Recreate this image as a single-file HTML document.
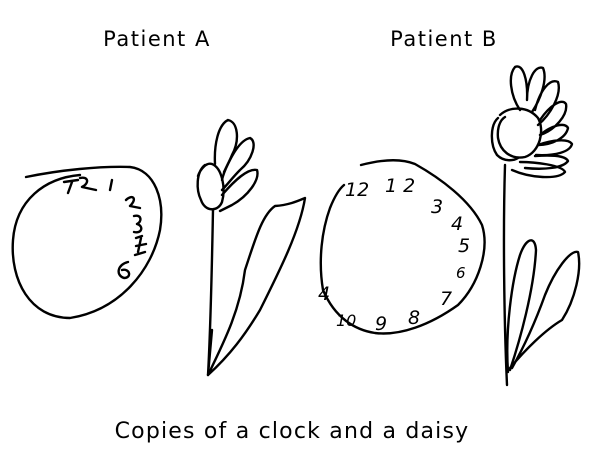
<!DOCTYPE html>
<html><head><style>
html,body{margin:0;padding:0;background:#fff;}
svg{display:block}
text{font-family:"DejaVu Sans","Liberation Sans",sans-serif;fill:#000}
.s{fill:none;stroke:#000;stroke-width:2.4;stroke-linecap:round;stroke-linejoin:round}
.n{font-family:"Liberation Sans",sans-serif;font-size:19px;font-style:italic}
</style></head><body>
<svg width="600" height="465" viewBox="0 0 600 465">
<text x="157" y="46" font-size="21" letter-spacing="1.5" text-anchor="middle">Patient A</text>
<text x="444" y="46" font-size="21" letter-spacing="1.5" text-anchor="middle">Patient B</text>
<text x="292" y="438" font-size="22" letter-spacing="1.2" text-anchor="middle">Copies of a clock and a daisy</text>

<!-- Clock A -->
<path class="s" d="M26,177 C60,170 100,166 130,167 C155,170 165,200 160,230 C152,270 120,310 70,318 C30,318 10,280 13,240 C16,200 45,178 80,175"/>
<path class="s" d="M68,193 L72,182 M64,182 L78,180 M80,178 C88,176 90,183 82,187 L96,190 M112,180 L110,190 M126,200 C132,194 138,198 130,206 L140,208 M134,216 C142,214 142,222 137,224 C144,226 142,234 134,232 M136,238 L142,236 M136,246 L146,244 M141,238 L138,252 M128,262 C118,264 115,275 124,278 C132,278 130,268 122,270 M135,255 L145,252"/>

<!-- Flower A -->
<path class="s" d="M213,210 C212,260 211,320 208,375 L212,330"/>
<path class="s" d="M208,375 C225,340 240,310 245,270 C255,240 262,215 275,206 C290,205 300,200 305,198 C300,230 280,270 260,310 C245,335 230,355 208,375"/>
<path class="s" d="M205,165 C196,172 196,190 201,200 C205,212 218,212 222,202 C226,188 222,168 212,164 C206,162 200,170 198,176"/>
<path class="s" d="M215,164 C214,145 218,125 228,120 C238,122 240,140 232,155 C228,165 224,170 222,180"/>
<path class="s" d="M224,172 C232,155 240,140 250,138 C258,142 252,160 240,170 C232,178 228,184 222,190"/>
<path class="s" d="M222,195 C235,180 248,168 257,170 C260,180 248,196 232,205 C226,208 222,210 220,211"/>

<!-- Clock B -->
<path class="s" d="M361,165 C380,160 400,158 415,164 C440,178 470,200 482,225 C490,250 478,285 458,305 C430,325 400,336 375,333 C355,330 335,318 323,290 C318,260 322,230 330,208 C334,198 338,190 344,185"/>
<g class="n">
<text x="345" y="196">12</text>
<text x="385" y="192">1 2</text>
<text x="431" y="213">3</text>
<text x="451" y="230">4</text>
<text x="458" y="252">5</text>
<text x="456" y="278" font-size="15">6</text>
<text x="440" y="305">7</text>
<text x="408" y="324">8</text>
<text x="375" y="330">9</text>
<text x="336" y="326" font-size="16">10</text>
<text x="318" y="300">4</text>
</g>

<!-- Flower B -->
<path class="s" d="M505,165 C503,230 504,320 507,385"/>
<path class="s" d="M508,372 C505,330 512,280 520,255 C526,238 535,235 536,250 C534,290 520,340 510,370"/>
<path class="s" d="M510,368 C525,350 545,330 562,320 C575,300 582,270 578,252 C570,250 555,270 545,295 C536,320 525,345 512,368"/>
<path class="s" d="M500,115 C510,106 528,106 538,118 C545,130 540,152 525,157 C510,160 500,150 498,138 C497,128 500,120 505,117"/>
<path class="s" d="M498,118 C490,125 490,145 497,155 C505,163 515,160 518,158"/>
<path class="s" d="M520,110 C510,95 508,75 515,67 C523,63 528,80 527,100 M527,100 C527,80 535,65 543,68 C548,80 540,100 532,112 M535,110 C540,90 550,78 558,82 C562,95 550,115 538,125 M540,120 C550,105 562,98 566,104 C568,115 555,130 540,135 M540,135 C552,125 565,122 568,128 C566,138 552,145 538,145 M538,145 C552,140 568,138 572,144 C570,152 555,156 536,155 M535,156 C550,155 565,155 568,161 C563,168 545,170 525,168 M520,162 C535,162 562,165 565,172 C558,180 530,178 512,170"/>
</svg>
</body></html>
